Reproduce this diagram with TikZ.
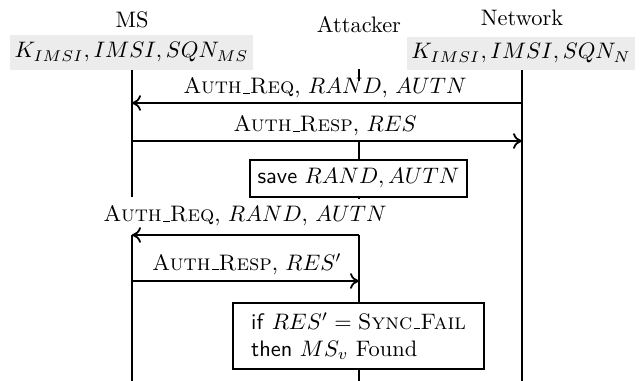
\documentclass[tikz,border=0pt]{standalone}
\usetikzlibrary{arrows.meta}
\newcommand{\usc}{\leavevmode\kern.06em\vbox{\hrule width.3em}}
\begin{document}
\begin{tikzpicture}[x=0.4464pt,y=-0.4464pt,
  life/.style={line width=0.8pt},
  msg/.style={line width=0.8pt,-{To[length=4pt,width=7pt]}},
  statebox/.style={fill=gray!15,inner sep=2pt,minimum height=35*0.4464pt},
  actbox/.style={draw,line width=0.8pt,fill=white,inner sep=3pt},
  lbl/.style={inner sep=1pt}]
\useasboundingbox (0,0) rectangle (641,381);
% headers
\node (ms) at (132,20) {MS};
\node (att) at (359,25) {Attacker};
\node (nw) at (522,18) {Network};
\node[statebox,minimum width=237*0.4464pt] (msbox) at (131.5,52.5) {$K_{IMSI}, IMSI, SQN_{MS}$};
\node[statebox,minimum width=222*0.4464pt,minimum height=33*0.4464pt] (nwbox) at (521,53.5) {$K_{IMSI}, IMSI, SQN_{N}$};
% lifeline coordinates
\coordinate (msA) at (132,70);
\coordinate (msB) at (132,197);
\coordinate (msC) at (132,235);
\coordinate (msD) at (132,381);
\coordinate (nwA) at (522,70);
\coordinate (nwD) at (522,381);
\coordinate (atA) at (359,69);
\coordinate (atB) at (359,81);
\coordinate (atC) at (359,141);
\coordinate (atE) at (359,199);
\coordinate (atF) at (359,235);
\coordinate (atG) at (359,381);
% lifelines
\draw[life] (msA) -- (msB);
\draw[life] (msC) -- (msD);
\draw[life] (nwA) -- (nwD);
\draw[life] (atA) -- (atB);
\draw[life] (atC) -- (atE);
\draw[life] (atF) -- (atG);
% messages
\coordinate (m1a) at (522,103);
\coordinate (m1b) at (132,103);
\draw[msg] (m1a) -- (m1b);
\node[lbl] (l1) at (325,88) {\textsc{Auth\usc Req}, $RAND$,\ $AUTN$};
\coordinate (m2a) at (132,141);
\coordinate (m2b) at (522,141);
\draw[msg] (m2a) -- (m2b);
\node[lbl] (l2) at (325,126) {\textsc{Auth\usc Resp}, $RES$};
\node[actbox,minimum width=217*0.4464pt,minimum height=37*0.4464pt] (save) at (358.5,178.5) {\textsf{save} $RAND, AUTN$};
\coordinate (m3b) at (132,235);
\draw[msg] (atF) -- (m3b);
\node[lbl] (l3) at (245,216) {\textsc{Auth\usc Req}, $RAND$,\ $AUTN$};
\coordinate (m4a) at (132,281);
\coordinate (m4b) at (359,281);
\draw[msg] (m4a) -- (m4b);
\node[lbl] (l4) at (247,264) {\textsc{Auth\usc Resp}, $RES'$};
\node[actbox,minimum width=251*0.4464pt,minimum height=66*0.4464pt,align=left] (chk) at (358.5,336)
  {\textsf{if} $RES' = \textsc{Sync\usc Fail}$\\ \textsf{then} $MS_v$ Found};
\end{tikzpicture}
\end{document}
